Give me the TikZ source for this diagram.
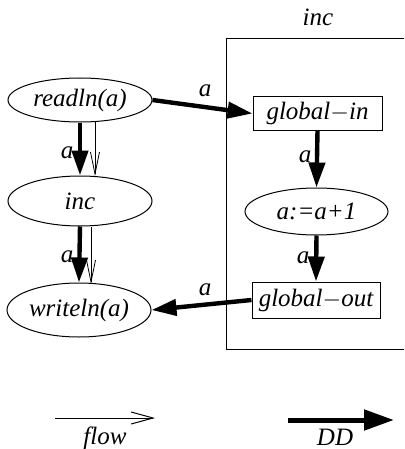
\documentclass[tikz,border=0pt]{standalone}
\usepackage{fontspec}
\setmainfont{Liberation Serif}
\usetikzlibrary{arrows.meta,shapes.geometric}
\begin{document}
\begin{tikzpicture}[x=0.5pt,y=-0.5pt,
  every node/.style={font=\fontsize{12.5}{14}\selectfont\itshape},
  ell/.style={draw,ellipse,inner sep=0pt,line width=0.5pt},
  rbox/.style={draw,rectangle,inner sep=0pt,line width=0.5pt},
  dd/.style={line width=2.2pt,-{Triangle[length=12.5pt,width=8pt]}},
  ddleg/.style={line width=2.5pt,-{Triangle[length=15pt,width=10pt]}},
  flowarr/.style={line width=0.4pt,-{Straight Barb[length=11pt,width=4.5pt,line width=0.4pt]}},
  flowleg/.style={line width=0.5pt,-{Straight Barb[length=11pt,width=6pt,line width=0.5pt]}},
  lbl/.style={inner sep=0pt}]
\useasboundingbox (0,0) rectangle (404,449);
\begin{scope}
\clip (0,0) rectangle (404,449);
\draw[line width=0.5pt] (226,39) rectangle (420,349);
\end{scope}
\node[lbl] (title) at (318,17) {inc};
% left column
\node[ell,minimum width=72pt,minimum height=22pt] (rd) at (80,100) {readln(a)};
\node[ell,minimum width=72pt,minimum height=25pt] (inc) at (80,201) {inc};
\node[ell,minimum width=72pt,minimum height=27pt] (wr) at (79,310) {writeln(a)};
% right column
\node[rbox,minimum width=64.5pt,minimum height=16.5pt] (gi) at (317.5,113.5) {global$-$in};
\node[ell,minimum width=71.5pt,minimum height=23.5pt] (asg) at (316.5,211.5) {a:=a+1};
\node[rbox,minimum width=64pt,minimum height=18pt] (go) at (316,300) {global$-$out};
% coordinates for parallel arrows
\coordinate (f1s) at (95,122);
\coordinate (f1e) at (95,176);
\coordinate (f2s) at (91,227);
\coordinate (f2e) at (91,284);
\draw[flowarr] (f1s) -- (f1e);
\draw[flowarr] (f2s) -- (f2e);
\draw[dd] (rd.south) -- (inc.north);
\draw[dd] (inc.south) -- (wr.north);
\node[lbl] (l1) at (67,153) {a};
\node[lbl] (l2) at (67,257) {a};
\draw[dd] (rd.east) -- (gi.west);
\node[lbl] (l3) at (205,91) {a};
\draw[dd] (go.west) -- (wr.east);
\node[lbl] (l4) at (205,290) {a};
\draw[dd] (gi.south) -- (asg.north);
\node[lbl] (l5) at (305,157) {a};
\draw[dd] (asg.south) -- (go.north);
\node[lbl] (l6) at (303,258) {a};
% legend
\coordinate (fa) at (55,418);
\coordinate (fb) at (155,418);
\draw[flowleg] (fa) -- (fb);
\node[lbl] (flow) at (105,438) {flow};
\coordinate (da) at (288,420);
\coordinate (db) at (394,420);
\draw[ddleg] (da) -- (db);
\node[lbl] (ddl) at (335,437) {DD};
\end{tikzpicture}
\end{document}
